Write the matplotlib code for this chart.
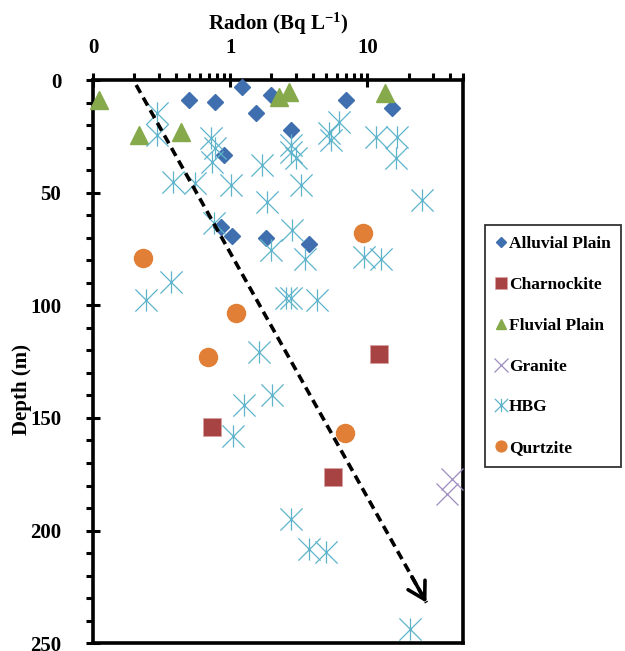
import numpy as np
import matplotlib
matplotlib.use("Agg")
import matplotlib.pyplot as plt
from matplotlib.path import Path

plt.rcParams['font.family'] = ['Liberation Serif', 'DejaVu Serif']
plt.rcParams['font.weight'] = 'bold'
plt.rcParams['mathtext.fontset'] = 'custom'
plt.rcParams['mathtext.bf'] = 'Liberation Serif:bold'
plt.rcParams['mathtext.rm'] = 'Liberation Serif:bold'
plt.rcParams['mathtext.default'] = 'bf'

# 数据：Radon (Bq/L) 与 深度 (m)
alluvial_x = [0.50, 0.78, 1.22, 1.55, 1.99, 7.0, 15.2, 2.79, 0.90, 0.86, 1.03, 1.83, 3.78]
alluvial_y = [8.9, 9.6, 3.2, 14.8, 6.7, 8.9, 12.6, 22.2, 33.3, 65.3, 69.3, 70.2, 72.9]

charno_x = [0.74, 12.2, 5.65]
charno_y = [154, 121.5, 176]

fluvial_x = [0.111, 0.217, 0.44, 2.28, 2.70, 13.5]
fluvial_y = [8.9, 24.4, 23.1, 7.5, 5.3, 5.9]

granite_x = [41.7, 38.4]
granite_y = [177, 183.6]

hbg_x = [0.29, 0.29, 0.73, 0.78, 0.74, 0.38, 0.55, 1.02, 1.71, 1.86,
         6.25, 5.28, 5.4, 11.6, 16.6, 16.3, 2.79, 2.79, 3.03, 3.30,
         25.2, 0.76, 1.99, 0.37, 0.244, 2.84, 3.52, 9.5, 12.6, 2.57,
         2.79, 4.31, 1.63, 2.03, 1.27, 1.04, 2.79, 3.78, 5.02, 20.6]
hbg_y = [14.5, 24.4, 25.5, 30, 36.4, 45.3, 45.8, 46.7, 37.8, 54.2,
         18.7, 23.6, 26.7, 25.2, 25.2, 34.6, 28.9, 32, 34.7, 46.7,
         53.3, 63.6, 75.6, 89.8, 97.8, 66.7, 79.3, 78.6, 79.3, 96.9,
         96.9, 97.8, 120.9, 140, 144.4, 158, 194.7, 208, 209.3, 243.6]

qurtz_x = [0.232, 1.11, 0.69, 6.9, 9.35]
qurtz_y = [79.2, 103.6, 123, 156.6, 68]

trend_x = [0.206, 27]
trend_y = [2.2, 232]

# HBG 的星号标记：竖线加 X
star = Path([(0, -1), (0, 1), (-1, -1), (1, 1), (-1, 1), (1, -1)],
            [Path.MOVETO, Path.LINETO, Path.MOVETO, Path.LINETO, Path.MOVETO, Path.LINETO])

fig = plt.figure(figsize=(6.25, 6.51), dpi=100)
ax = fig.add_axes([0.149, 0.012, 0.592, 0.865])

ax.plot(alluvial_x, alluvial_y, 'D', color='#3f6fae', ms=8.6, ls='none', label='Alluvial Plain', clip_on=False, zorder=3)
ax.plot(charno_x, charno_y, 's', color='#a84343', mec='#d9a0a0', mew=0.5, ms=13.5, ls='none', label='Charnockite', clip_on=False, zorder=3)
ax.plot(fluvial_x, fluvial_y, '^', color='#86a94c', ms=13, ls='none', label='Fluvial Plain', clip_on=False, zorder=3)
ax.plot(granite_x, granite_y, 'x', color='#9c8cc0', ms=16, mew=0.9, ls='none', label='Granite', clip_on=False, zorder=3)
ax.plot(hbg_x, hbg_y, marker=star, color='#5fb4cb', ms=16, mew=0.9, ls='none', label='HBG', clip_on=False, zorder=3)
ax.plot(qurtz_x, qurtz_y, 'o', color='#e07f35', ms=13, ls='none', label='Qurtzite', clip_on=False, zorder=3)

# 趋势箭头（虚线 + 实心箭头）
ax.plot(trend_x, trend_y, color='black', lw=2.6, ls=(0, (2.5, 1.5)), zorder=4)
t = 0.95
back_x = 10 ** (np.log10(trend_x[0]) + t * (np.log10(trend_x[1]) - np.log10(trend_x[0])))
back_y = trend_y[0] + t * (trend_y[1] - trend_y[0])
ax.annotate('', xy=(trend_x[1], trend_y[1]), xytext=(back_x, back_y),
            arrowprops=dict(arrowstyle='->,head_length=0.6,head_width=0.35', lw=2.6,
                            color='black', mutation_scale=20, shrinkA=0, shrinkB=0), zorder=4)

ax.set_xscale('log')
ax.set_xlim(0.1, 50)
ax.set_ylim(250, 0)
ax.set_yticks([0, 50, 100, 150, 200, 250])
ax.set_yticks(np.arange(0, 251, 10), minor=True)
ax.set_xticks([0.1, 1, 10])
ax.set_xticklabels(['0', '1', '10'])
ax.xaxis.tick_top()
ax.xaxis.set_label_position('top')
ax.tick_params(axis='both', which='major', direction='inout', length=10, width=2.2, labelsize=15)
ax.tick_params(axis='both', which='minor', direction='out', length=5, width=2.2)
ax.tick_params(axis='x', which='major', pad=11)
ax.tick_params(axis='y', which='major', pad=18)
ax.tick_params(axis='x', which='minor', labeltop=False)
for s in ax.spines.values():
    s.set_linewidth(2.6)

ax.set_xlabel('Radon (Bq L$^{-1}$)', fontsize=15, fontweight='bold', labelpad=6)
ax.set_ylabel('Depth (m)', fontsize=15, fontweight='bold')
ax.yaxis.set_label_coords(-0.165, 0.45)

leg = ax.legend(loc='upper left', bbox_to_anchor=(0.776, 0.654), bbox_transform=fig.transFigure,
                prop={'size': 12.5, 'weight': 'bold'}, frameon=True, fancybox=False, edgecolor='black',
                markerscale=0.6, handlelength=0.6, handletextpad=0.15, labelspacing=1.42,
                borderpad=0.62, borderaxespad=0)
leg.get_frame().set_linewidth(1.3)

fig.savefig('out.png', dpi=100)
